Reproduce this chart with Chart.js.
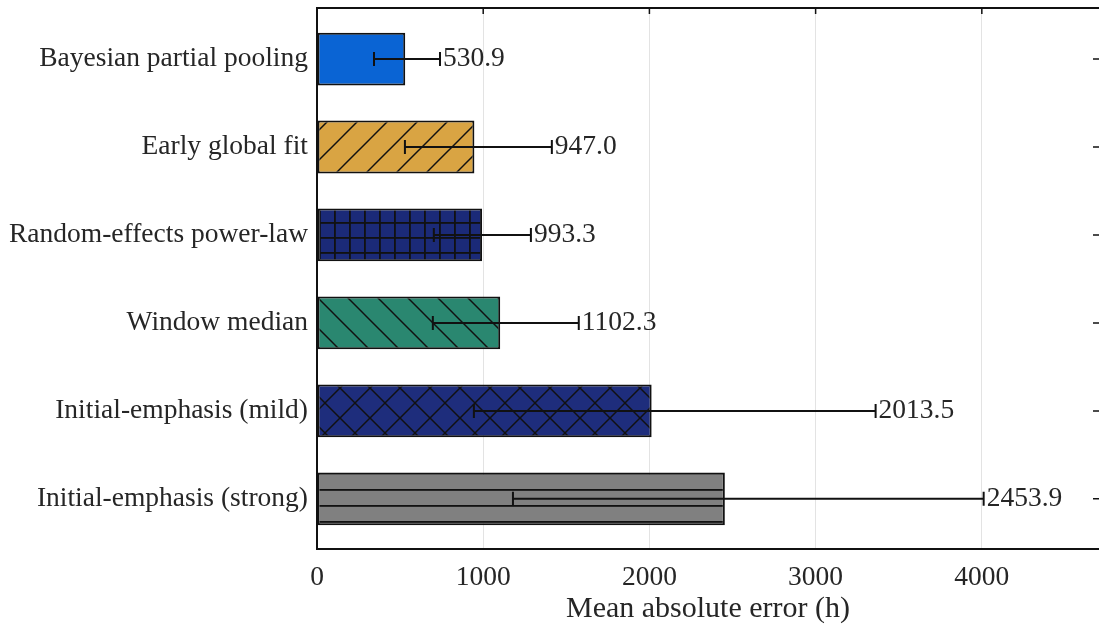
<!DOCTYPE html>
<html>
<head>
<meta charset="utf-8">
<script src="https://cdn.jsdelivr.net/npm/chart.js@4.4.1/dist/chart.umd.min.js"></script>
<style>
  html, body { margin: 0; padding: 0; background: #fff; }
</style>
</head>
<body>
<canvas id="chart" width="1099" height="630"></canvas>
<script>
const methods = [
  "Bayesian partial pooling",
  "Early global fit",
  "Random-effects power-law",
  "Window median",
  "Initial-emphasis (mild)",
  "Initial-emphasis (strong)"
];
const maeValues = [530.9, 947.0, 993.3, 1102.3, 2013.5, 2453.9];
const errLow = [343, 529, 703, 697, 944, 1179];
const errHigh = [740, 1413, 1287, 1575, 3361, 4011];
const xTicks = [0, 1000, 2000, 3000, 4000];

const barColors = ["#0a64d4", "#d9a443", "#1b2a78", "#2a8770", "#1e2d7c", "#808080"];
const hatchKinds = ["none", "/", "+", "\\", "x", "-"];

const FONT = '"Liberation Serif", "Times New Roman", serif';
const TEXT = "#262626";

const canvas = document.getElementById("chart");
const ctx = canvas.getContext("2d");

// hatch fill, tiled from the canvas origin like matplotlib
function makeHatch(color, kind) {
  if (kind === "none") return color;
  const s = kind === "+" ? 15 : (kind === "-" ? 16 : 30);
  const tile = document.createElement("canvas");
  tile.width = s; tile.height = s;
  const t = tile.getContext("2d");
  t.fillStyle = color;
  t.fillRect(0, 0, s, s);
  t.strokeStyle = "#111";
  t.fillStyle = "#111";
  t.lineWidth = 1.5;
  function seg(a, b, c, d) { t.beginPath(); t.moveTo(a, b); t.lineTo(c, d); t.stroke(); }
  if (kind === "/" || kind === "x") {
    seg(-5, 5, 5, -5);
    seg(-3, s + 3, s + 3, -3);
    seg(s - 5, s + 5, s + 5, s - 5);
  }
  if (kind === "\\" || kind === "x") {
    seg(-3, -3, s + 3, s + 3);
    seg(s - 5, -5, s + 5, 5);
    seg(-5, s - 5, 5, s + 5);
  }
  if (kind === "+") {
    t.fillRect(0, 0, 1.8, s);
    t.fillRect(0, 0, s, 1.8);
  }
  if (kind === "-") {
    t.fillRect(0, 0, s, 1.8);
  }
  const pat = ctx.createPattern(tile, "repeat");
  const shift = { "/": [29, 0], "\\": [20, 0], "x": [10, -2], "+": [4, 12], "-": [0, 9] }[kind];
  pat.setTransform(new DOMMatrix([1, 0, 0, 1, shift[0], shift[1]]));
  return pat;
}

const fills = barColors.map((c, i) => makeHatch(c, hatchKinds[i]));

// error bars, value labels and the top/right frame
const extras = {
  id: "extras",
  afterDatasetsDraw(chart) {
    const { ctx, chartArea, scales: { x, y } } = chart;
    ctx.save();
    ctx.strokeStyle = "#111";
    ctx.lineWidth = 2;
    maeValues.forEach((v, i) => {
      const yc = y.getPixelForValue(i);
      const x0 = x.getPixelForValue(errLow[i]);
      const x1 = x.getPixelForValue(errHigh[i]);
      ctx.beginPath();
      ctx.moveTo(x0, yc); ctx.lineTo(x1, yc);
      ctx.moveTo(x0, yc - 7); ctx.lineTo(x0, yc + 7);
      ctx.moveTo(x1, yc - 7); ctx.lineTo(x1, yc + 7);
      ctx.stroke();
      ctx.fillStyle = TEXT;
      ctx.font = "27.5px " + FONT;
      ctx.textAlign = "left";
      ctx.textBaseline = "middle";
      ctx.fillText(v.toFixed(1), x1 + 3, yc);
    });

    // top spine
    ctx.beginPath();
    ctx.moveTo(chartArea.left, chartArea.top);
    ctx.lineTo(chartArea.right + 2, chartArea.top);
    ctx.stroke();

    // inward ticks on top and right
    ctx.lineWidth = 1.5;
    ctx.beginPath();
    xTicks.slice(1).forEach(v => {
      const px = x.getPixelForValue(v);
      ctx.moveTo(px, chartArea.top); ctx.lineTo(px, chartArea.top + 6);
    });
    methods.forEach((m, i) => {
      const py = y.getPixelForValue(i);
      ctx.moveTo(chartArea.right - 6, py); ctx.lineTo(chartArea.right + 1, py);
    });
    ctx.stroke();
    ctx.restore();
  }
};

new Chart(ctx, {
  type: "bar",
  data: {
    datasets: [{
      data: maeValues.map((v, i) => ({ x: v, y: i })),
      backgroundColor: fills,
      borderColor: "#111",
      borderWidth: 2,
      borderSkipped: false,
      barPercentage: 0.6,
      categoryPercentage: 1
    }]
  },
  options: {
    responsive: false,
    animation: false,
    indexAxis: "y",
    layout: { padding: { top: 8, right: 0, left: 0, bottom: 0 } },
    plugins: { legend: { display: false }, tooltip: { enabled: false } },
    scales: {
      x: {
        type: "linear",
        position: "bottom",
        min: 0,
        max: 4705,
        afterBuildTicks: s => { s.ticks = xTicks.map(v => ({ value: v })); },
        afterFit: s => { s.height = 81; s.paddingLeft = 0; s.paddingRight = 0; },
        grid: { color: "#e3e3e3", lineWidth: 1, drawTicks: false },
        border: { display: true, color: "#111", width: 2 },
        ticks: {
          callback: v => String(v),
          font: { family: FONT, size: 27.5 },
          color: TEXT,
          padding: 12
        },
        title: {
          display: true,
          text: "Mean absolute error (h)",
          font: { family: FONT, size: 30 },
          color: TEXT,
          padding: { top: 0, bottom: 3 }
        }
      },
      y: {
        type: "linear",
        offset: false,
        min: -0.58,
        max: 5.57,
        reverse: true,
        afterBuildTicks: s => { s.ticks = methods.map((m, i) => ({ value: i })); },
        afterFit: s => { s.width = 317; s.paddingTop = 0; s.paddingBottom = 0; },
        grid: { display: false, drawTicks: false, offset: false },
        border: { display: true, color: "#111", width: 2 },
        ticks: {
          callback: v => methods[v],
          font: { family: FONT, size: 27.5 },
          color: TEXT,
          padding: 9
        }
      }
    }
  },
  plugins: [extras]
});
</script>
</body>
</html>
